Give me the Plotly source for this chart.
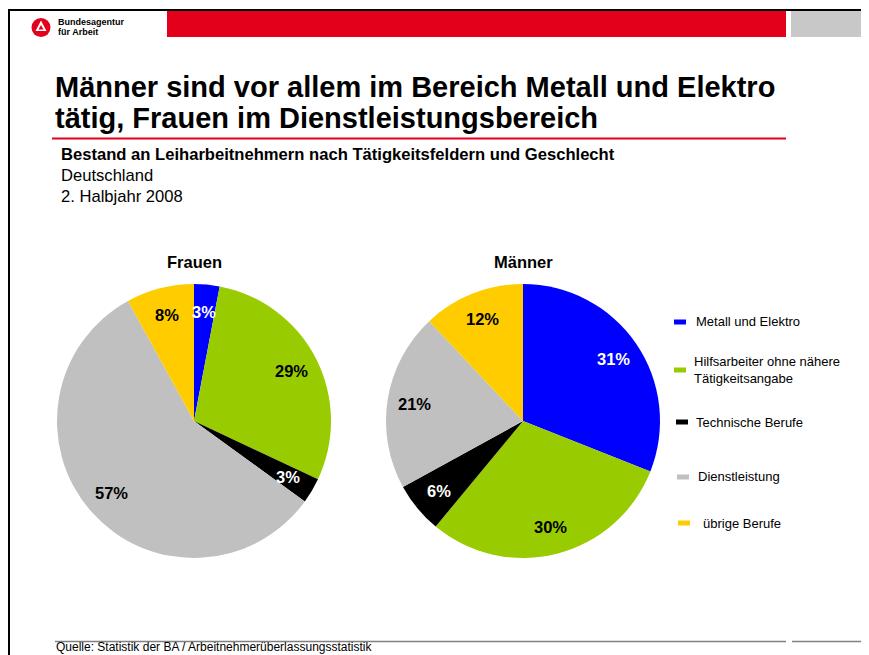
import math
import plotly.graph_objects as go

W, H = 869, 655
OFF = 8                    # page margin of the HTML body
FW, FH = W - OFF, H - OFF  # figure size that reaches the window edges

# ---------------- data ----------------
categories = ["Metall und Elektro",
              "Hilfsarbeiter ohne nähere Tätigkeitsangabe",
              "Technische Berufe",
              "Dienstleistung",
              "übrige Berufe"]
legend_labels = ["Metall und Elektro",
                 "Hilfsarbeiter ohne nähere<br>Tätigkeitsangabe",
                 "Technische Berufe",
                 "Dienstleistung",
                 "übrige Berufe"]
frauen_pct = [3, 29, 3, 57, 8]
maenner_pct = [31, 30, 6, 21, 12]
pie_titles = ["Frauen", "Männer"]

title_lines = ["Männer sind vor allem im Bereich Metall und Elektro",
               "tätig, Frauen im Dienstleistungsbereich"]
subtitle = "Bestand an Leiharbeitnehmern nach Tätigkeitsfeldern und Geschlecht"
region = "Deutschland"
period = "2. Halbjahr 2008"
source = "Quelle: Statistik der BA / Arbeitnehmerüberlassungsstatistik"
logo_lines = ["Bundesagentur", "für Arbeit"]

# ---------------- style ----------------
colors = ["#0000FF", "#99CC00", "#000000", "#C0C0C0", "#FFCC00"]
text_colors = ["white", "black", "white", "black", "black"]
RED = "#E2001A"
FONT = "Liberation Sans, Arial, sans-serif"


def px(x):
    return (x - OFF) / FW


def py(y):
    return 1 - (y - OFF) / FH


fig = go.Figure()

# pie boxes in page pixels: (left, top, size)
pie_boxes = [(57, 284, 274), (386, 284, 274)]
LABEL_R = 0.8

shapes = []
annotations = []

for vals, (bx, by, bs), ttl in zip([frauen_pct, maenner_pct], pie_boxes, pie_titles):
    dom = dict(x=[px(bx), px(bx + bs)], y=[py(by + bs), py(by)])
    fig.add_trace(go.Pie(
        labels=categories, values=vals, domain=dom,
        sort=False, direction="clockwise", rotation=0,
        marker=dict(colors=colors, line=dict(width=0)),
        textinfo="none", showlegend=False, hoverinfo="label+value",
    ))
    # percentage labels at the mid-angle of each slice
    total = sum(vals)
    cx, cy, r = bx + bs / 2, by + bs / 2, bs / 2
    cum = 0
    for v, tc in zip(vals, text_colors):
        mid = (cum + v / 2) / total * 2 * math.pi
        cum += v
        lx = cx + LABEL_R * r * math.sin(mid)
        ly = cy - LABEL_R * r * math.cos(mid)
        annotations.append(dict(text=f"<b>{v}%</b>", xref="paper", yref="paper",
                                x=px(lx), y=py(ly), xanchor="center", yanchor="middle",
                                showarrow=False, font=dict(family=FONT, size=16.5, color=tc)))
    annotations.append(dict(text=f"<b>{ttl}</b>", xref="paper", yref="paper",
                            x=px(cx), y=py(262), xanchor="center", yanchor="middle",
                            showarrow=False, font=dict(family=FONT, size=16.5, color="black")))

# header frame
shapes.append(dict(type="line", xref="paper", yref="paper", x0=px(8), x1=px(870),
                   y0=py(10), y1=py(10), line=dict(color="black", width=2)))
shapes.append(dict(type="line", xref="paper", yref="paper", x0=px(9), x1=px(9),
                   y0=py(9), y1=py(656), line=dict(color="black", width=2)))
shapes.append(dict(type="rect", xref="paper", yref="paper", x0=px(167), x1=px(786),
                   y0=py(37), y1=py(11), fillcolor=RED, line=dict(width=0)))
shapes.append(dict(type="rect", xref="paper", yref="paper", x0=px(791), x1=px(870),
                   y0=py(37), y1=py(11), fillcolor="#C8C8C8", line=dict(width=0)))
# logo
shapes.append(dict(type="circle", xref="paper", yref="paper", x0=px(31.5), x1=px(50.5),
                   y0=py(37), y1=py(18), fillcolor=RED, line=dict(width=0)))
shapes.append(dict(type="path", xref="paper", yref="paper",
                   path=f"M {px(41)},{py(20.5)} L {px(35.5)},{py(31)} L {px(46.5)},{py(31)} Z",
                   fillcolor="white", line=dict(width=0)))
shapes.append(dict(type="path", xref="paper", yref="paper",
                   path=f"M {px(41)},{py(25)} L {px(38.5)},{py(29.5)} L {px(43.5)},{py(29.5)} Z",
                   fillcolor=RED, line=dict(width=0)))
for i, t in enumerate(logo_lines):
    annotations.append(dict(text=f"<b>{t}</b>", xref="paper", yref="paper",
                            x=px(56), y=py(22 + 10 * i), xanchor="left", yanchor="middle",
                            showarrow=False, font=dict(family=FONT, size=9, color="black")))

# title
for i, t in enumerate(title_lines):
    annotations.append(dict(text=f"<b>{t}</b>", xref="paper", yref="paper",
                            x=px(53), y=py(87 + 31 * i), xanchor="left", yanchor="middle",
                            showarrow=False, font=dict(family=FONT, size=29, color="black")))
shapes.append(dict(type="line", xref="paper", yref="paper", x0=px(52), x1=px(786),
                   y0=py(138.5), y1=py(138.5), line=dict(color=RED, width=2)))

sub_lines = [f"<b>{subtitle}</b>", region, period]
for i, t in enumerate(sub_lines):
    annotations.append(dict(text=t, xref="paper", yref="paper",
                            x=px(59), y=py(155 + 20.5 * i), xanchor="left", yanchor="middle",
                            showarrow=False, font=dict(family=FONT, size=16.6, color="black")))

# legend (custom)
leg_y = [322, 370, 422, 477, 523]
leg_mx = [674, 674, 676, 677, 678]
leg_tx = [694, 692, 694, 696, 701]
for lab, col, yy, mx, tx in zip(legend_labels, colors, leg_y, leg_mx, leg_tx):
    shapes.append(dict(type="rect", xref="paper", yref="paper", x0=px(mx), x1=px(mx + 12),
                       y0=py(yy + 2.5), y1=py(yy - 2.5), fillcolor=col, line=dict(width=0)))
    annotations.append(dict(text=lab, xref="paper", yref="paper", x=px(tx), y=py(yy),
                            xanchor="left", yanchor="middle", align="left", showarrow=False,
                            font=dict(family=FONT, size=13, color="black")))

# footer
shapes.append(dict(type="line", xref="paper", yref="paper", x0=px(55), x1=px(786),
                   y0=py(641.5), y1=py(641.5), line=dict(color="#808080", width=1.5)))
shapes.append(dict(type="line", xref="paper", yref="paper", x0=px(792), x1=px(870),
                   y0=py(641.5), y1=py(641.5), line=dict(color="#808080", width=1.5)))
annotations.append(dict(text=source, xref="paper", yref="paper", x=px(54), y=py(656),
                        xanchor="left", yanchor="bottom", showarrow=False,
                        font=dict(family=FONT, size=12, color="black")))

fig.update_layout(
    width=FW, height=FH,
    margin=dict(l=0, r=0, t=0, b=0),
    paper_bgcolor="white", plot_bgcolor="white",
    shapes=shapes, annotations=annotations,
    showlegend=False,
    font=dict(family=FONT),
)

fig.write_html("out.html")
